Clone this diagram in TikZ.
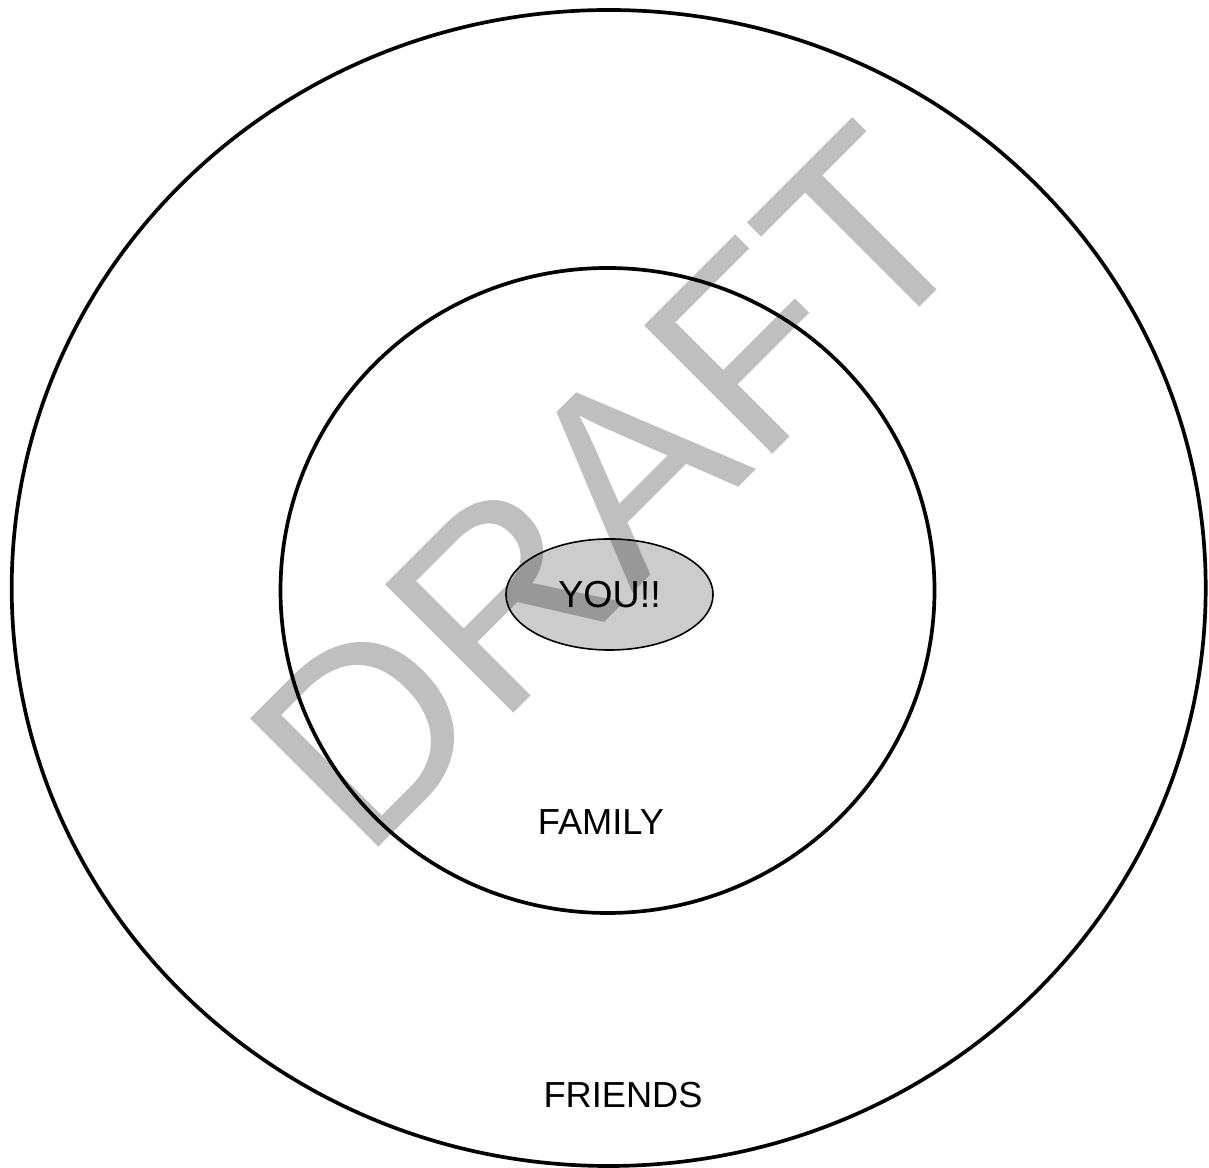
\documentclass[tikz,border=0pt]{standalone}
\usepackage{fontspec}
\setmainfont{Liberation Sans}
\usepackage{xcolor}
\definecolor{youfill}{HTML}{cccccc}
\usetikzlibrary{shapes.geometric, positioning}

\begin{document}
\begin{tikzpicture}[
  x=0.01cm, y=-0.01cm,
  ring/.style={draw=black, line width=1.05pt},
  you/.style={ellipse, draw=black, line width=0.45pt, fill=youfill,
    minimum width=2.07cm, minimum height=1.11cm, inner sep=0pt,
    font=\fontsize{10.7}{12}\selectfont},
  circlelabel/.style={font=\fontsize{10.3}{12}\selectfont, inner sep=0pt},
  watermark/.style={rotate=45, inner sep=0pt, text=black, text opacity=0.25,
    font=\fontsize{75}{80}\selectfont}
]
\useasboundingbox (0,0) rectangle (1209,1168);

% Rings
\draw[ring] (608.7,588) ellipse [x radius=597, y radius=578];
\draw[ring] (607.5,590.5) ellipse [x radius=327, y radius=322.5];

% Centre
\node[you] (you) at (609.5,594.5) {YOU!!};

% Ring labels
\node[circlelabel] (family)  at (601,822.5)  {FAMILY};
\node[circlelabel] (friends) at (623,1095.5) {FRIENDS};

% Watermark
\node[watermark] (draft) at (610,488) {DRAFT};
\end{tikzpicture}
\end{document}
